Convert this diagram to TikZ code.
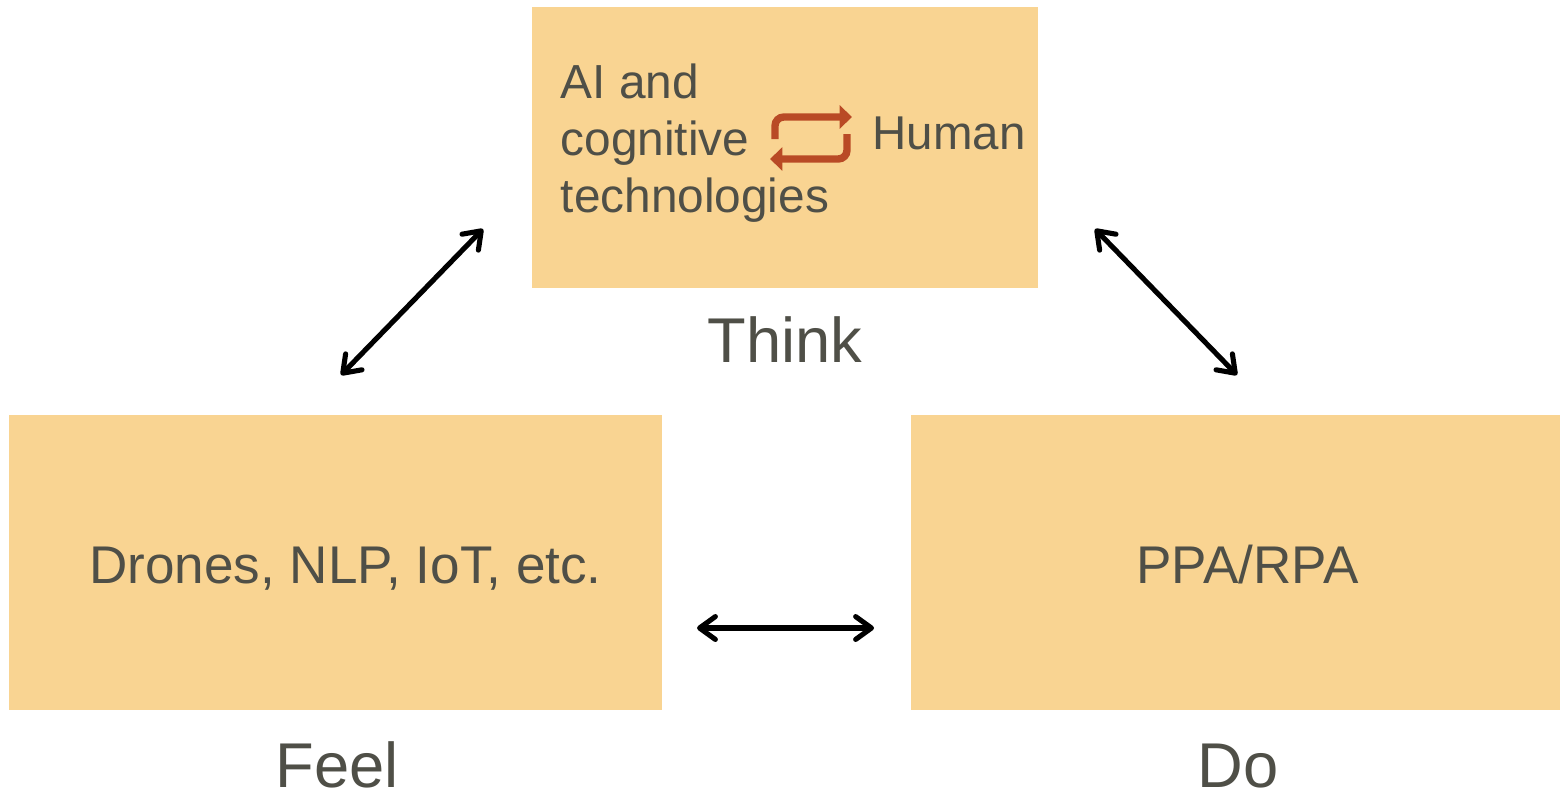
\documentclass[tikz,border=0pt]{standalone}
\usepackage{fontspec}
\setmainfont{Liberation Sans}
\usetikzlibrary{arrows.meta}
\definecolor{boxfill}{RGB}{249,212,146}
\definecolor{textgray}{RGB}{79,79,71}
\definecolor{cyclered}{RGB}{185,74,37}
\begin{document}
\begin{tikzpicture}[>={Straight Barb[length=4.5pt,width=6.5pt,line cap=round,line join=round]},
    box/.style={fill=boxfill,inner sep=0pt},
    boxtext/.style={text=textgray,anchor=base,inner sep=0pt,font=\fontsize{15.1}{18}\selectfont},
    caption/.style={text=textgray,anchor=base,font=\fontsize{18}{21}\selectfont}]
    \useasboundingbox (0,0) rectangle (15.6,-7.91);

    \node[box,minimum width=5.06cm,minimum height=2.81cm] (thinkbox) at (7.85,-1.475) {};
    \node[box,minimum width=6.53cm,minimum height=2.95cm] (feelbox) at (3.355,-5.625) {};
    \node[box,minimum width=6.49cm,minimum height=2.95cm] (dobox) at (12.355,-5.625) {};

    \node[boxtext] (feeltext) at (3.455,-5.83) {Drones, NLP, IoT, etc.};
    \node[boxtext] (dotext) at (12.475,-5.83) {PPA/RPA};

    \node[text=textgray,anchor=north west,align=left,inner sep=0pt,font=\fontsize{13.6}{16.2}\selectfont]
        (aitext) at (5.60,-0.63) {AI and\\cognitive\\technologies};
    \node[text=textgray,anchor=west,inner sep=0pt,font=\fontsize{13.5}{16.2}\selectfont] (human) at (8.72,-1.33) {Human};

    \draw[cyclered,line width=2.1pt,rounded corners=2.5pt,-{Triangle[length=3.5pt,width=6.5pt]}]
        (7.75,-1.39) |- (8.52,-1.17);
    \draw[cyclered,line width=2.1pt,rounded corners=2.5pt,-{Triangle[length=3.5pt,width=6.5pt]}]
        (8.47,-1.34) |- (7.70,-1.59);

    \node[caption] (think) at (7.85,-3.62) {Think};
    \node[caption] (feel) at (3.37,-7.87) {Feel};
    \node[caption] (do) at (12.38,-7.87) {Do};

    \coordinate (ft) at (3.41,-3.75);
    \coordinate (tf) at (4.83,-2.29);
    \coordinate (td) at (10.95,-2.29);
    \coordinate (dt) at (12.37,-3.75);
    \coordinate (fd) at (6.97,-6.28);
    \coordinate (df) at (8.74,-6.28);

    \draw[<->,line width=1.45pt] (ft) -- (tf);
    \draw[<->,line width=1.45pt] (td) -- (dt);
    \draw[<->,line width=1.45pt] (fd) -- (df);
  \end{tikzpicture}
\end{document}
